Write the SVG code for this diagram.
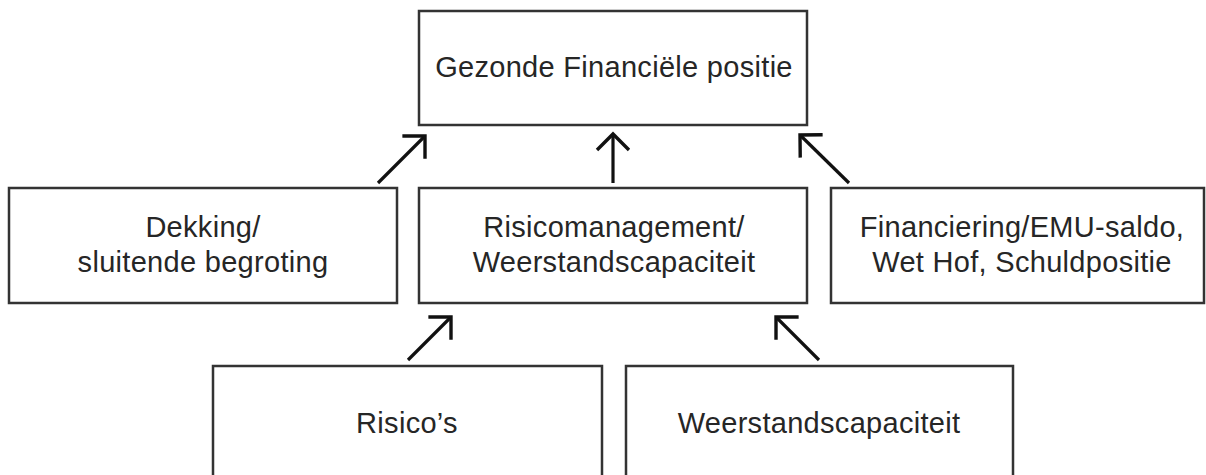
<svg xmlns="http://www.w3.org/2000/svg" width="1206" height="475" viewBox="0 0 1206 475">
  <style>
    .box { fill: #ffffff; stroke: #333333; stroke-width: 2.5; }
    .lbl { font-family: "Liberation Sans", Arial, sans-serif; font-size: 29px; letter-spacing: 0.3px; fill: #262626; text-anchor: middle; }
    .conn { stroke: #111111; stroke-width: 3.2; fill: none; marker-end: url(#arr); }
  </style>
  <defs>
    <marker id="arr" markerUnits="userSpaceOnUse" markerWidth="40" markerHeight="40" viewBox="-20 -20 40 40" refX="0" refY="0" orient="auto" overflow="visible">
      <path d="M -16 -16 L 0 0 L -16 16" fill="none" stroke="#111111" stroke-width="3.4" stroke-linecap="butt" stroke-linejoin="miter"/>
    </marker>
  </defs>
  <rect width="1206" height="475" fill="#ffffff"/>

  <g id="node-gezonde">
    <rect class="box" x="419" y="11" width="388" height="114"/>
    <text class="lbl" x="614" y="77">Gezonde Financiële positie</text>
  </g>
  <g id="node-dekking">
    <rect class="box" x="9" y="188" width="388" height="115"/>
    <text class="lbl" x="203" y="237">Dekking/</text>
    <text class="lbl" x="203" y="272">sluitende begroting</text>
  </g>
  <g id="node-risicomanagement">
    <rect class="box" x="419" y="188" width="388" height="115"/>
    <text class="lbl" x="614" y="237">Risicomanagement/</text>
    <text class="lbl" x="614" y="272">Weerstandscapaciteit</text>
  </g>
  <g id="node-financiering">
    <rect class="box" x="831" y="188" width="373" height="115"/>
    <text class="lbl" x="1022" y="237">Financiering/EMU-saldo,</text>
    <text class="lbl" x="1022" y="272">Wet Hof, Schuldpositie</text>
  </g>
  <g id="node-risicos">
    <rect class="box" x="213" y="366" width="389" height="120"/>
    <text class="lbl" x="407" y="433">Risico’s</text>
  </g>
  <g id="node-weerstand">
    <rect class="box" x="626" y="366" width="387" height="120"/>
    <text class="lbl" x="819" y="433">Weerstandscapaciteit</text>
  </g>

  <g id="connectors">
    <line class="conn" x1="378" y1="183" x2="425" y2="136"/>
    <line class="conn" x1="613" y1="183" x2="613" y2="134"/>
    <line class="conn" x1="849" y1="183" x2="800" y2="135"/>
    <line class="conn" x1="408" y1="360" x2="451" y2="317"/>
    <line class="conn" x1="819" y1="360" x2="776" y2="317"/>
  </g>
</svg>
